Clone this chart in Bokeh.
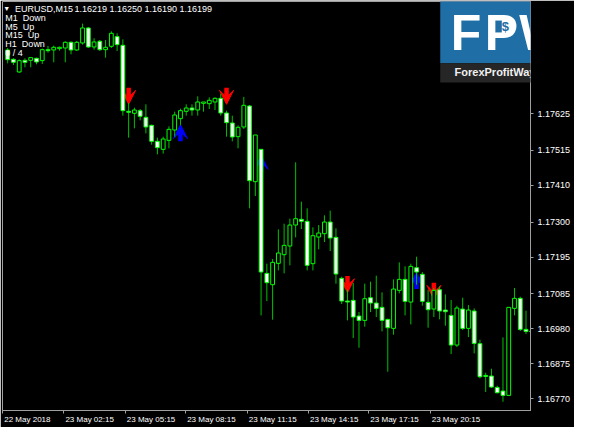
from bokeh.plotting import figure
from bokeh.models import (Range1d, FixedTicker, PrintfTickFormatter, CustomJSTickFormatter,
                          LinearAxis, Label, BoxAnnotation, Arrow, VeeHead, ColumnDataSource)
from bokeh.embed import file_html
from bokeh.resources import INLINE

# ---------------- data ----------------
bar_index = list(range(92))
opens = [1.17816, 1.17788, 1.17750, 1.17785, 1.17785, 1.17791, 1.17784, 1.17817, 1.17816, 1.17820,
         1.17822, 1.17839, 1.17816, 1.17837, 1.17882, 1.17825, 1.17842, 1.17817, 1.17827, 1.17856,
         1.17830, 1.17632, 1.17626, 1.17634, 1.17614, 1.17590, 1.17542, 1.17518, 1.17545, 1.17576,
         1.17610, 1.17632, 1.17642, 1.17636, 1.17656, 1.17655, 1.17660, 1.17671, 1.17627, 1.17597,
         1.17556, 1.17585, 1.17648, 1.17421, 1.17518, 1.17146, 1.17112, 1.17176, 1.17202, 1.17228,
         1.17291, 1.17308, 1.17302, 1.17175, 1.17255, 1.17265, 1.17300, 1.17254, 1.17131, 1.17063,
         1.17065, 1.17018, 1.17005, 1.17073, 1.17057, 1.17044, 1.17008, 1.16981, 1.17095, 1.17128,
         1.17060, 1.17163, 1.17143, 1.17059, 1.17039, 1.17097, 1.17036, 1.17020, 1.16931, 1.17039,
         1.16981, 1.17033, 1.16935, 1.16840, 1.16838, 1.16804, 1.16793, 1.16780, 1.17041, 1.17071,
         1.16978, 1.16973]
highs = [1.17822, 1.17791, 1.17788, 1.17791, 1.17793, 1.17793, 1.17820, 1.17828, 1.17829, 1.17826,
         1.17842, 1.17842, 1.17843, 1.17895, 1.17885, 1.17851, 1.17846, 1.17846, 1.17872, 1.17866,
         1.17848, 1.17657, 1.17643, 1.17639, 1.17653, 1.17592, 1.17553, 1.17556, 1.17587, 1.17631,
         1.17640, 1.17653, 1.17653, 1.17677, 1.17660, 1.17674, 1.17674, 1.17685, 1.17634, 1.17619,
         1.17590, 1.17675, 1.17651, 1.17561, 1.17518, 1.17175, 1.17189, 1.17278, 1.17295, 1.17310,
         1.17479, 1.17361, 1.17341, 1.17284, 1.17291, 1.17320, 1.17334, 1.17281, 1.17136, 1.17097,
         1.17117, 1.17030, 1.17115, 1.17121, 1.17139, 1.17089, 1.17010, 1.17128, 1.17179, 1.17167,
         1.17175, 1.17196, 1.17150, 1.17097, 1.17102, 1.17107, 1.17083, 1.17066, 1.17049, 1.17073,
         1.17051, 1.17041, 1.16947, 1.16848, 1.16860, 1.16809, 1.16954, 1.17044, 1.17102, 1.17076,
         1.17034, 1.16991]
lows = [1.17776, 1.17771, 1.17747, 1.17764, 1.17764, 1.17773, 1.17774, 1.17808, 1.17779, 1.17814,
        1.17779, 1.17803, 1.17813, 1.17832, 1.17822, 1.17817, 1.17813, 1.17793, 1.17822, 1.17813,
        1.17619, 1.17553, 1.17581, 1.17605, 1.17566, 1.17532, 1.17503, 1.17505, 1.17521, 1.17556,
        1.17590, 1.17619, 1.17619, 1.17619, 1.17631, 1.17639, 1.17636, 1.17619, 1.17556, 1.17542,
        1.17521, 1.17579, 1.17341, 1.17378, 1.17020, 1.17063, 1.17007, 1.17155, 1.17146, 1.17170,
        1.17254, 1.17279, 1.17155, 1.17155, 1.17218, 1.17240, 1.17213, 1.17115, 1.17054, 1.17005,
        1.16952, 1.16923, 1.16986, 1.17030, 1.17015, 1.16972, 1.16851, 1.16962, 1.17086, 1.17020,
        1.16993, 1.17112, 1.17049, 1.16983, 1.17015, 1.17008, 1.16989, 1.16904, 1.16925, 1.16976,
        1.16955, 1.16906, 1.16831, 1.16790, 1.16802, 1.16786, 1.16761, 1.16780, 1.17020, 1.16973,
        1.16964, 1.16952]
closes = [1.17787, 1.17779, 1.17784, 1.17779, 1.17793, 1.17780, 1.17817, 1.17814, 1.17824, 1.17824,
          1.17839, 1.17816, 1.17839, 1.17882, 1.17825, 1.17840, 1.17817, 1.17824, 1.17866, 1.17832,
          1.17634, 1.17629, 1.17636, 1.17617, 1.17585, 1.17542, 1.17523, 1.17549, 1.17578, 1.17621,
          1.17634, 1.17642, 1.17636, 1.17660, 1.17660, 1.17665, 1.17671, 1.17627, 1.17598, 1.17555,
          1.17584, 1.17650, 1.17424, 1.17561, 1.17150, 1.17118, 1.17179, 1.17207, 1.17230, 1.17291,
          1.17310, 1.17302, 1.17170, 1.17259, 1.17267, 1.17300, 1.17252, 1.17144, 1.17063, 1.17060,
          1.17015, 1.17005, 1.17070, 1.17057, 1.17041, 1.17005, 1.16983, 1.17099, 1.17128, 1.17062,
          1.17167, 1.17150, 1.17062, 1.17037, 1.17095, 1.17033, 1.17031, 1.16931, 1.17042, 1.16981,
          1.17036, 1.16936, 1.16836, 1.16837, 1.16805, 1.16788, 1.16780, 1.17044, 1.17071, 1.16978,
          1.16972, 1.16970]

price_ticks = [1.16770, 1.16875, 1.16980, 1.17085, 1.17195, 1.17300, 1.17410, 1.17515, 1.17625]
time_tick_pos = [-0.88, 9.76, 20.42, 30.90, 41.56, 52.22, 62.71, 73.37]
time_labels = ["22 May 2018", "23 May 02:15", "23 May 05:15", "23 May 08:15",
               "23 May 11:15", "23 May 14:15", "23 May 17:15", "23 May 20:15"]

sell_bars = [21, 38, 59, 74]
sell_prices = [1.17653, 1.17653, 1.17088, 1.17068]
buy_bars = [30, 44, 71]
buy_prices = [1.17592, 1.17500, 1.17149]

symbol = "EURUSD,M15"
header_prices = ["1.16219", "1.16250", "1.16190", "1.16199"]
timeframes = ["M1", "M5", "M15", "H1"]
trends = ["Down", "Up", "Up", "Down"]
score = "0 / 4"
logo_letters = ["F", "P", "W"]
logo_site = "ForexProfitWay.Com"

# ---------------- styling ----------------
W, H = 574, 427
BL, BT, BR, BB = 2, 1, 44, 17
FRAME_W = W - BL - BR
FRAME_H = H - BT - BB
X0, X1 = -0.9, 90.78
ARROW_LEN = 0.00050
WICK = "#00c000"
BODY_LINE = "#00ff00"
AXIS_C = "#a0a0a0"
TXT = "#ffffff"
FONT = "Liberation Sans"
LOGO_BLUE = "#1f6fa6"


def sx(rx):  # reference-pixel x -> frame-relative screen x
    return rx * W / 590 - BL


def sy(ry):  # reference-pixel y -> frame-relative screen y (up)
    return BT + FRAME_H - ry * H / 443


p = figure(width=W, height=H, x_range=Range1d(X0, X1), y_range=Range1d(1.167347, 1.179614),
           y_axis_location="right", output_backend="svg", toolbar_location=None,
           background_fill_color="black", border_fill_color="black",
           min_border_left=BL, min_border_top=BT, min_border_right=BR, min_border_bottom=BB)
p.grid.visible = False
p.outline_line_color = AXIS_C

# price scale
p.yaxis.ticker = FixedTicker(ticks=price_ticks)
p.yaxis.formatter = PrintfTickFormatter(format="%.5f")
p.yaxis.major_label_text_color = TXT
p.yaxis.major_label_text_font = FONT
p.yaxis.major_label_text_font_size = "9px"
p.yaxis.major_tick_out = 3
p.yaxis.major_tick_in = 0
p.yaxis.minor_tick_line_color = None
p.yaxis.axis_line_color = AXIS_C
p.yaxis.major_tick_line_color = AXIS_C
p.yaxis.major_label_standoff = 4

# time scale: tick marks on the first axis, left-aligned labels on a second one
xa = p.xaxis[0]
xa.ticker = FixedTicker(ticks=time_tick_pos)
xa.formatter = CustomJSTickFormatter(code="return ''")
xa.major_label_text_font_size = "1px"
xa.major_tick_out = 3
xa.major_tick_in = 0
xa.minor_tick_line_color = None
xa.axis_line_color = AXIS_C
xa.major_tick_line_color = AXIS_C
xa.major_label_standoff = 0

units_per_px = (X1 - X0) / FRAME_W
label_px = [46.5 if lab.startswith("22") else 48.5 for lab in time_labels]
label_centers = [pos + (w / 2 + 1.5) * units_per_px for pos, w in zip(time_tick_pos, label_px)]
xa2 = LinearAxis(ticker=FixedTicker(ticks=label_centers),
                 major_label_overrides={c: lab for c, lab in zip(label_centers, time_labels)},
                 major_label_text_color=TXT, major_label_text_font=FONT,
                 major_label_text_font_size="8px", major_tick_line_color=None,
                 minor_tick_line_color=None, axis_line_color=None,
                 major_tick_out=0, major_tick_in=0, major_label_standoff=1)
p.add_layout(xa2, "below")

# signal arrows (behind the candles)
sell_src = ColumnDataSource(dict(x=sell_bars, y0=[v + ARROW_LEN for v in sell_prices], y1=sell_prices))
buy_src = ColumnDataSource(dict(x=buy_bars, y0=[v - ARROW_LEN for v in buy_prices], y1=buy_prices))
p.add_layout(Arrow(end=VeeHead(size=14, fill_color="#ff0000", line_color="#ff0000"),
                   x_start="x", y_start="y0", x_end="x", y_end="y1", source=sell_src,
                   line_color="#ff0000", line_width=4.5, level="underlay"))
p.add_layout(Arrow(end=VeeHead(size=14, fill_color="#0000ff", line_color="#0000ff"),
                   x_start="x", y_start="y0", x_end="x", y_end="y1", source=buy_src,
                   line_color="#0000ff", line_width=4.5, level="underlay"))

# candles
src = ColumnDataSource(dict(
    x=bar_index, o=opens, h=highs, l=lows, c=closes,
    top=[max(o, c) for o, c in zip(opens, closes)],
    bottom=[min(o, c) for o, c in zip(opens, closes)],
    fill=["white" if c < o else "black" for o, c in zip(opens, closes)],
))
p.segment(x0="x", y0="h", x1="x", y1="l", source=src, line_color=WICK, line_width=1)
p.vbar(x="x", width=0.66, top="top", bottom="bottom", fill_color="fill",
       line_color=BODY_LINE, line_width=1, source=src)


# header texts
def txt(rx, ry, s, size="9px", align="left", color=TXT, style="normal", **kw):
    p.add_layout(Label(x=sx(rx), y=sy(ry), x_units="screen", y_units="screen", text=s,
                       text_color=color, text_font=FONT, text_font_size=size,
                       text_font_style=style, text_align=align, text_baseline="middle", **kw))


txt(6.5, 8, "\u25bc", size="7px", align="center")
txt(15, 9, symbol)
for rx, s in zip([76, 112, 148, 184], header_prices):
    txt(rx, 9, s)
for i, (tf, tr) in enumerate(zip(timeframes, trends)):
    txt(5, 18.5 + 8.9 * i, tf + "\u00a0\u00a0" + tr)
txt(5, 54, score)

# watermark logo
p.add_layout(BoxAnnotation(left=sx(452), right=sx(600), top=sy(-5), bottom=sy(65),
                           left_units="screen", right_units="screen", top_units="screen",
                           bottom_units="screen", fill_color=LOGO_BLUE, fill_alpha=1,
                           line_color=None, level="overlay"))
p.add_layout(BoxAnnotation(left=sx(452), right=sx(600), top=sy(65), bottom=sy(85),
                           left_units="screen", right_units="screen", top_units="screen",
                           bottom_units="screen", fill_color="#262626", fill_alpha=1,
                           line_color=None, level="overlay"))
for rx, letter in zip([478.5, 515, 557.5], logo_letters):
    txt(rx, 33.5, letter, size="50px", align="center", color="white", style="bold", level="overlay")
txt(519, 27, "$", size="13px", align="center", color=LOGO_BLUE, style="bold",
    background_fill_color="white", level="overlay")
txt(522, 74.5, logo_site, size="11px", align="center", color="#f0f0f0",
    style="bold", level="overlay")

open("out.html", "w").write(file_html(p, INLINE))
